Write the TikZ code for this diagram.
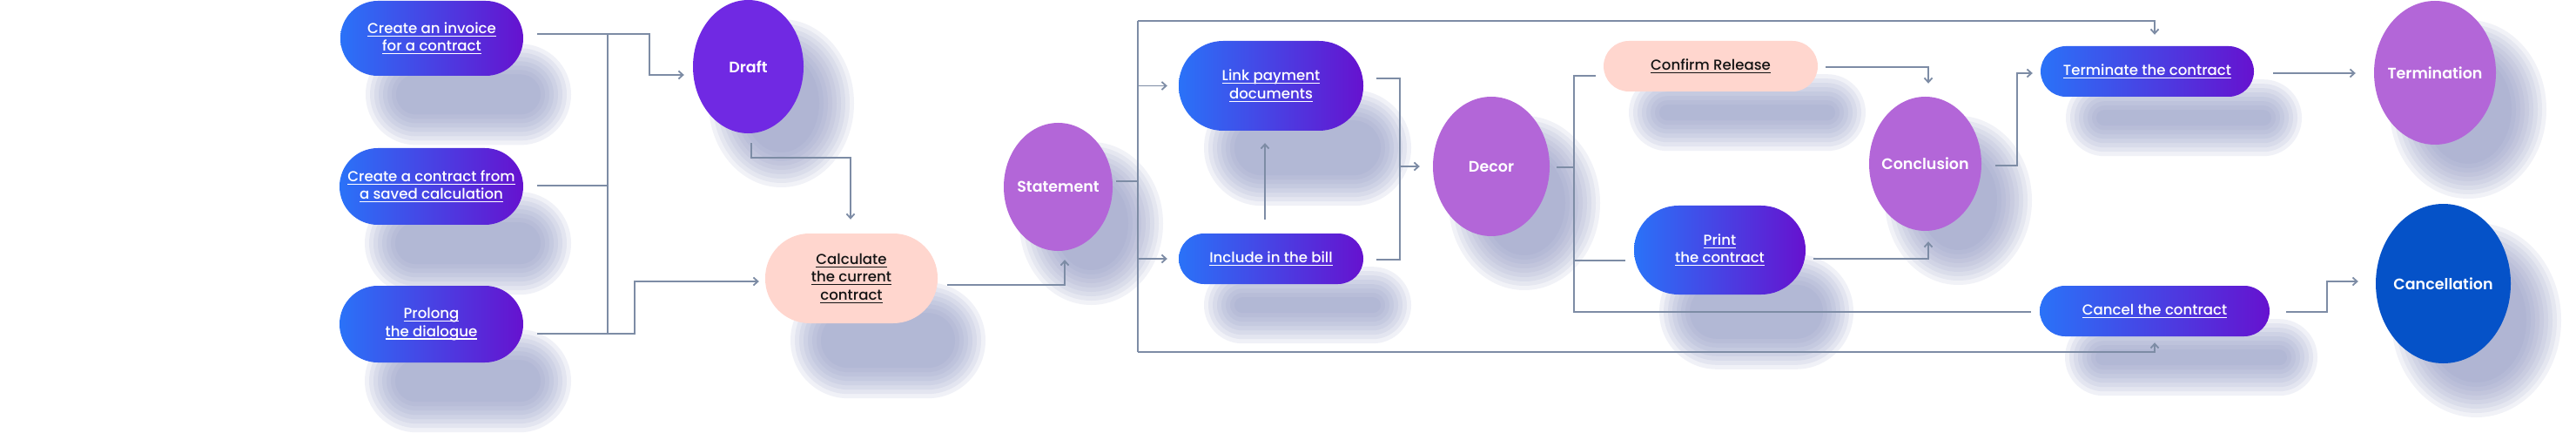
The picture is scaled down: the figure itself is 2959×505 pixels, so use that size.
\documentclass[tikz,border=0pt]{standalone}
\usepackage{fontspec}
\IfFontExistsTF{Poppins Medium}{\setmainfont{Poppins Medium}}{\setmainfont{Poppins}}
\IfFontExistsTF{Poppins SemiBold}{\newfontfamily\lblfam{Poppins SemiBold}}{\newfontfamily\lblfam{Poppins}}
\usetikzlibrary{arrows.meta,calc,shapes.geometric}
\pgfdeclarelayer{bgl}
\pgfdeclarelayer{shl}
\pgfsetlayers{bgl,shl,main}
\definecolor{gblue}{HTML}{2A72F8}
\definecolor{gpurp}{HTML}{6612CF}
\definecolor{draftc}{HTML}{7029E3}
\definecolor{lilac}{HTML}{B366D8}
\definecolor{cancc}{HTML}{0552C8}
\definecolor{pinkc}{HTML}{FFD6CE}
\definecolor{linec}{HTML}{7D8CA5}
\definecolor{shadc}{HTML}{9098C4}
\newsavebox\ulbox
\newcommand\myul[1]{\sbox\ulbox{#1}\rlap{\rule[-3.4pt]{\wd\ulbox}{1.2pt}}\usebox\ulbox}
\newcommand\ovlbl[1]{\makebox[0pt][c]{#1}}
\newcommand\pillfont{\fontsize{16.6}{20.5}\selectfont}
\newcommand\ovalfont{\lblfam\fontsize{17.5}{21}\selectfont}
% soft shadow of a pill: centre x, centre y, width, height
\newcommand\shpill[4]{%
  \begin{pgfonlayer}{shl}
  \foreach \e in {0,5,...,35}{\fill[shadc,opacity=.13,rounded corners={(#4-40)/2+\e}]
    ({#1+42-(#3-44)/2-\e},{#2+0.4*#4+30-(#4-40)/2-\e}) rectangle ({#1+42+(#3-44)/2+\e},{#2+0.4*#4+30+(#4-40)/2+\e});}
  \end{pgfonlayer}}
% soft shadow of an oval: centre x, centre y, x radius, y radius
\newcommand\shoval[4]{%
  \begin{pgfonlayer}{shl}
  \foreach \e in {0,5,...,40}{\fill[shadc,opacity=.12] ({#1+38},{#2+42}) ellipse [x radius={#3-20+\e}, y radius={#4-20+\e}];}
  \end{pgfonlayer}}
\tikzset{
  gpill/.style={rectangle,left color=gblue,right color=gpurp,text=white,inner sep=0pt,align=center,font=\pillfont},
  ppill/.style={rectangle,fill=pinkc,text=black!92,inner sep=0pt,align=center,font=\pillfont},
  oval/.style={ellipse,inner sep=0pt,text=white,font=\ovalfont},
  conn/.style={draw=linec,line width=1.8pt},
  arr/.style={conn,-{Straight Barb[length=5pt,width=9pt]}},
}
\begin{document}
\begin{tikzpicture}[x=1pt,y=-1pt]
\useasboundingbox (0,0) rectangle (2959,505);
\begin{pgfonlayer}{bgl}
\fill[white] (0,0) rectangle (2959,505);
\end{pgfonlayer}
% ---- nodes ----
\node[gpill,minimum width=210pt,minimum height=86pt,rounded corners=43pt] (inv) at (496,44) {\myul{Create an invoice}\\\myul{for a contract}};
\shpill{496}{44}{210}{86}
\node[gpill,minimum width=211pt,minimum height=88pt,rounded corners=44pt] (saved) at (495.5,214) {\myul{Create a contract from}\\\myul{a saved calculation}};
\shpill{495.5}{214}{211}{88}
\node[gpill,minimum width=211pt,minimum height=88pt,rounded corners=44pt] (prolong) at (495.5,372) {\myul{Prolong}\\\myul{the dialogue}};
\shpill{495.5}{372}{211}{88}
\node[oval,fill=draftc,minimum width=127pt,minimum height=153pt] (draft) at (859.5,76.5) {\ovlbl{Draft}};
\shoval{859.5}{76.5}{63.5}{76.5}
\node[ppill,minimum width=198pt,minimum height=103pt,rounded corners=51pt] (calc) at (978,319.5) {\myul{Calculate}\\\myul{the current}\\\myul{contract}};
\shpill{978}{319.5}{198}{103}
\node[oval,fill=lilac,minimum width=125pt,minimum height=147pt] (statement) at (1215.5,214.5) {\ovlbl{Statement}};
\shoval{1215.5}{214.5}{62.5}{73.5}
\node[gpill,minimum width=212pt,minimum height=103pt,rounded corners=51pt] (link) at (1460,98.5) {\myul{Link payment}\\\myul{documents}};
\shpill{1460}{98.5}{212}{103}
\node[gpill,minimum width=212pt,minimum height=58pt,rounded corners=29pt] (incl) at (1460,297) {\myul{Include in the bill}};
\shpill{1460}{297}{212}{58}
\node[oval,fill=lilac,minimum width=134pt,minimum height=160pt] (decor) at (1713,191) {\ovlbl{Decor}};
\shoval{1713}{191}{67}{80}
\node[ppill,minimum width=246pt,minimum height=58pt,rounded corners=29pt] (confirm) at (1965,76) {\myul{Confirm Release}};
\shpill{1965}{76}{246}{58}
\node[gpill,minimum width=197pt,minimum height=102pt,rounded corners=51pt] (print) at (1975.5,287) {\myul{Print}\\\myul{the contract}};
\shpill{1975.5}{287}{197}{102}
\node[oval,fill=lilac,minimum width=129pt,minimum height=154pt] (conclusion) at (2211.5,188) {\ovlbl{Conclusion}};
\shoval{2211.5}{188}{64.5}{77}
\node[gpill,minimum width=245pt,minimum height=58pt,rounded corners=29pt] (term) at (2466.5,82) {\myul{Terminate the contract}};
\shpill{2466.5}{82}{245}{58}
\node[gpill,minimum width=264pt,minimum height=58pt,rounded corners=29pt] (cancel) at (2475,357) {\myul{Cancel the contract}};
\shpill{2475}{357}{264}{58}
\node[oval,fill=lilac,minimum width=140pt,minimum height=165pt] (termination) at (2797,83.5) {\ovlbl{Termination}};
\shoval{2797}{83.5}{70}{82.5}
\node[oval,fill=cancc,minimum width=155pt,minimum height=183pt] (cancellation) at (2806.5,325.5) {\ovlbl{Cancellation}};
\shoval{2806.5}{325.5}{77.5}{91.5}
% ---- junction points ----
\coordinate (t1top) at (698,39);
\coordinate (t1bot) at (698,383);
\coordinate (t2top) at (1307,24);
\coordinate (t2bot) at (1307,404);
\coordinate (t4top) at (1808,87);
\coordinate (t4bot) at (1808,358);
% ---- connectors ----
\draw[conn] (t1top) -- (t1bot);
\draw[arr] ($(inv.east)+(16,-5)$) -| ($(draft.west)+(-50,9.5)$) -- ($(draft.west)+(-10,9.5)$);
\draw[conn] ($(saved.east)+(16,-1)$) -- ($(saved.east)+(97,-1)$);
\draw[arr] ($(prolong.east)+(16,11)$) -| ($(calc.west)+(-150,3.5)$) -- ($(calc.west)+(-7,3.5)$);
\draw[arr] ($(draft.south)+(3.5,11)$) |- ($(calc.north)+(-1,-87)$) -- ($(calc.north)+(-1,-16)$);
\draw[arr] ($(calc.east)+(11,7.5)$) -| ($(statement.south)+(7.5,10)$);
\draw[conn] ($(statement.east)+(4,-6.5)$) -- ($(statement.east)+(29,-6.5)$);
\draw[conn] (t2top) -- (t2bot);
\draw[arr] (t2top |- link.west) -- ($(link.west)+(-13,0)$);
\draw[arr] (t2top |- incl.west) -- ($(incl.west)+(-13,0)$);
\draw[arr] (t2top) -| ($(term.north)+(8.5,-13)$);
\draw[arr] (t2bot) -| ($(cancel.south)+(0,7)$);
\draw[arr] ($(incl.north)+(-7,-16)$) -- ($(link.south)+(-7,14)$);
\draw[conn] ($(link.east)+(15,-8.5)$) -| ($(incl.east)+(42,1)$) -- ($(incl.east)+(15,1)$);
\draw[arr] ($(decor.west)+(-38,0)$) -- ($(decor.west)+(-15,0)$);
\draw[conn] ($(decor.east)+(8,1)$) -- ($(decor.east)+(28,1)$);
\draw[conn] ($(confirm.west)+(-9,11)$) -- (t4top) -- (t4bot) -- ($(cancel.west)+(-10,1)$);
\draw[conn] ($(print.west)+(-69,12)$) -- ($(print.west)+(-10,12)$);
\draw[arr] ($(confirm.east)+(9,1)$) -| ($(conclusion.north)+(3.5,-15)$);
\draw[arr] ($(print.east)+(9,10)$) -| ($(conclusion.south)+(3.5,12)$);
\draw[arr] ($(conclusion.east)+(16,2)$) -| ($(term.west)+(-27,2)$) -- ($(term.west)+(-9,2)$);
\draw[arr] ($(term.east)+(22,2)$) -- ($(termination.west)+(-21,0.5)$);
\draw[arr] ($(cancel.east)+(19,1)$) -| ($(cancellation.west)+(-56,-2.5)$) -- ($(cancellation.west)+(-20,-2.5)$);
\end{tikzpicture}
\end{document}
